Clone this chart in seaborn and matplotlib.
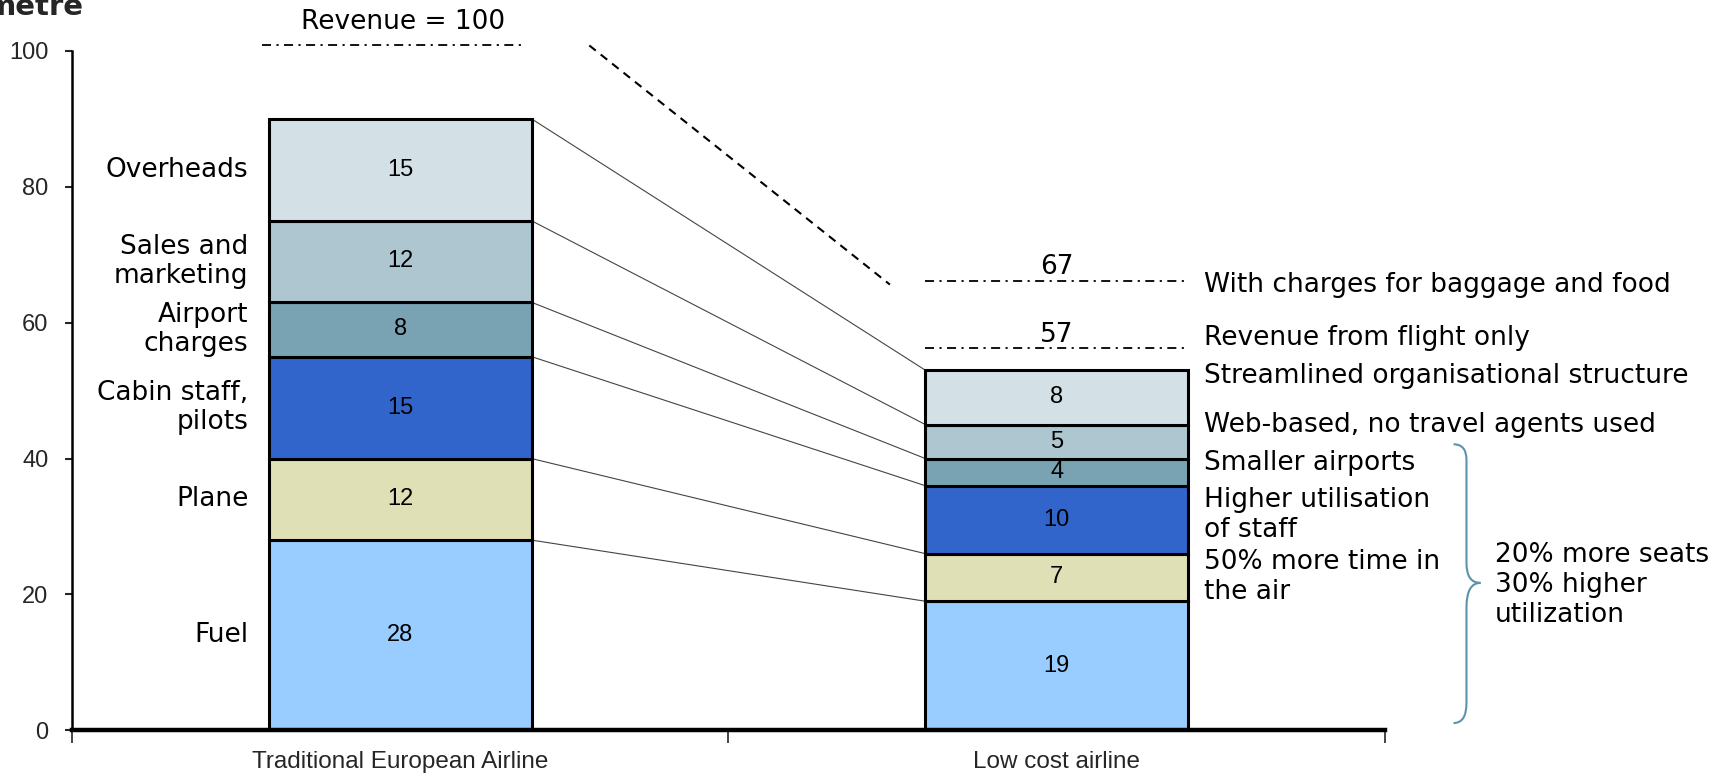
import numpy as np
import pandas as pd
import matplotlib
matplotlib.use("Agg")
import matplotlib.pyplot as plt
from matplotlib.path import Path
from matplotlib.patches import PathPatch
from matplotlib.ticker import FixedLocator
import seaborn as sns

# --- data -------------------------------------------------------------
airlines = ["Traditional European Airline", "Low cost airline"]
cost_items = ["Fuel", "Plane", "Cabin staff,\npilots", "Airport\ncharges",
              "Sales and\nmarketing", "Overheads"]
traditional_costs = [28, 12, 15, 8, 12, 15]
low_cost_costs = [19, 7, 10, 4, 5, 8]
segment_colors = ["#99CCFF", "#E0E0B7", "#3265CB", "#79A3B3", "#ADC6CF", "#D3E0E6"]

revenue_traditional = 100
revenue_low_cost = [67, 57]
revenue_low_cost_notes = ["With charges for baggage and food", "Revenue from flight only"]

low_cost_notes = ["Streamlined organisational structure",
                  "Web-based, no travel agents used",
                  "Smaller airports",
                  "Higher utilisation\nof staff",
                  "50% more time in\nthe air"]
brace_note = "20% more seats\n30% higher\nutilization"
y_ticks = [0, 20, 40, 60, 80, 100]

# --- figure -----------------------------------------------------------
sns.set_style("white")
plt.rcParams["font.family"] = ["DejaVu Sans"]

fig = plt.figure(figsize=(17.35, 7.73), dpi=100)
ax = fig.add_axes([0.0415, 0.0552, 0.7567, 0.879])

annot_font = dict(family="DejaVu Sans", fontsize=19, color="black")
num_font = dict(family="Liberation Sans", fontsize=17, color="black")

bar_width = 0.4
trad = np.array(traditional_costs)
low = np.array(low_cost_costs)
trad_cum = np.concatenate([[0], np.cumsum(trad)])
low_cum = np.concatenate([[0], np.cumsum(low)])

for i, (item, color) in enumerate(zip(cost_items, segment_colors)):
    seg = pd.DataFrame({"airline": airlines,
                        "cost": [trad[i], low[i]],
                        "base": [trad_cum[i], low_cum[i]]})
    sns.barplot(data=seg, x="airline", y="cost", order=airlines,
                bottom=seg["base"].to_numpy(), color=color, width=bar_width,
                edgecolor="black", linewidth=2.2, saturation=1, ax=ax, zorder=3)
    # values inside the segments
    ax.text(0, trad_cum[i] + trad[i] / 2, f"{trad[i]}", ha="center", va="center", **num_font, zorder=4)
    ax.text(1, low_cum[i] + low[i] / 2, f"{low[i]}", ha="center", va="center", **num_font, zorder=4)
    # cost item names on the left of the first bar
    ax.text(-0.231, trad_cum[i] + trad[i] / 2, item, ha="right", va="center",
            linespacing=1.15, **annot_font)

# thin connectors between matching segment tops
half = bar_width / 2
for t, l in zip(trad_cum[1:], low_cum[1:]):
    ax.plot([half, 1 - half], [t, l], color="#444444", lw=0.8, zorder=2)

# revenue levels
dashdot = (0, (5, 3, 1.2, 3))
ax.plot([-half - 0.01, half - 0.01], [revenue_traditional + 0.8] * 2, color="black",
        lw=1.3, linestyle=dashdot, clip_on=False)
ax.text(0.005, revenue_traditional + 2.4, f"Revenue = {revenue_traditional}",
        ha="center", va="bottom", **annot_font, clip_on=False)
for val in revenue_low_cost:
    ax.plot([1 - half, 1 + half], [val - 0.8, val - 0.8], color="black", lw=1.3, linestyle=dashdot)
    ax.text(1.0, val - 0.7, f"{val}", ha="center", va="bottom", **annot_font)

ax.text(1.224, revenue_low_cost[0] - 1.4, revenue_low_cost_notes[0], ha="left", va="center", **annot_font)
ax.text(1.224, revenue_low_cost[1] + 0.8, revenue_low_cost_notes[1], ha="left", va="center", **annot_font)

# dashed drop from traditional revenue to low-cost revenue
ax.plot([0.288, 0.746], [revenue_traditional + 0.8, revenue_low_cost[0] - 1.4],
        color="black", lw=1.5, linestyle=(0, (4, 3)), clip_on=False)

# notes next to the low-cost bar
note_y = [52.1, 45.0, 39.4, 31.7, 22.5]
for txt, y in zip(low_cost_notes, note_y):
    ax.text(1.224, y, txt, ha="left", va="center", linespacing=1.2, **annot_font)

# curly brace grouping the lower cost items
bx, tip_x, top_x = 1.6243, 1.6456, 1.6046
verts = [(top_x, 42.1), (bx, 42.1), (bx, 39.8),
         (bx, 24.6),
         (bx, 21.7), (tip_x, 21.7),
         (bx, 21.7), (bx, 18.1),
         (bx, 4.0),
         (bx, 1.07), (top_x, 1.07)]
codes = [Path.MOVETO, Path.CURVE3, Path.CURVE3,
         Path.LINETO,
         Path.CURVE3, Path.CURVE3,
         Path.CURVE3, Path.CURVE3,
         Path.LINETO,
         Path.CURVE3, Path.CURVE3]
ax.add_patch(PathPatch(Path(verts, codes), facecolor="none", edgecolor="#5B93AE",
                       lw=1.5, clip_on=False))
ax.text(1.668, 21.4, brace_note, ha="left", va="center", linespacing=1.2, **annot_font)

# --- axes -------------------------------------------------------------
ax.set_xlim(-0.5, 1.5)
ax.set_ylim(0, 100)
ax.set_xlabel("")
ax.set_ylabel("")
for side in ["top", "right"]:
    ax.spines[side].set_visible(False)
ax.spines["left"].set_linewidth(1.8)
ax.spines["left"].set_color("black")
ax.spines["bottom"].set_linewidth(3.2)
ax.spines["bottom"].set_color("black")
ax.spines["bottom"].set_zorder(5)

ax.yaxis.set_major_locator(FixedLocator(y_ticks))
ax.set_yticklabels([str(v) for v in y_ticks], family="Liberation Sans", fontsize=17)
ax.tick_params(axis="y", which="major", left=True, direction="out", length=5, width=1.5, pad=12)

ax.xaxis.set_major_locator(FixedLocator([-0.5, 0.5, 1.5]))
ax.xaxis.set_minor_locator(FixedLocator([0, 1]))
ax.set_xticklabels(["", "", ""])
ax.set_xticklabels(airlines, minor=True, family="Liberation Sans", fontsize=17.5)
ax.tick_params(axis="x", which="major", bottom=True, direction="out", length=9, width=1.2)
ax.tick_params(axis="x", which="minor", bottom=True, length=0, pad=15)

# partially visible heading at the very top
fig.text(-14 / 1735, 1 - 15 / 773, "metre", fontsize=21, fontweight="bold", ha="left", va="baseline")

fig.savefig("out.png", dpi=100)
